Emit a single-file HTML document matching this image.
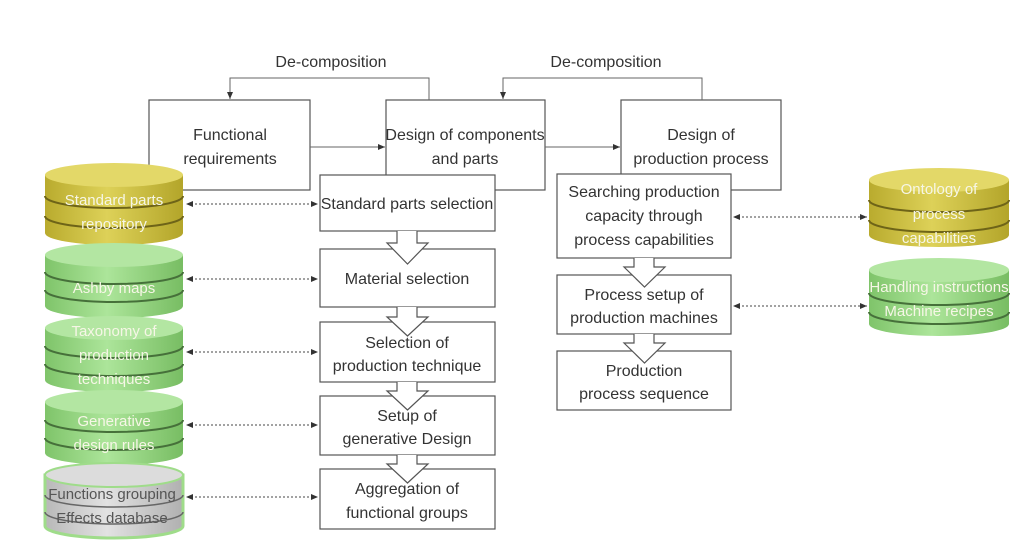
<!DOCTYPE html>
<html><head><meta charset="utf-8"><style>
html,body{margin:0;padding:0;background:#fff;}
svg{display:block;font-family:"Liberation Sans",sans-serif;}
</style></head><body>
<svg width="1024" height="553" viewBox="0 0 1024 553" xmlns="http://www.w3.org/2000/svg">
<defs>
<marker id="ah" markerWidth="8" markerHeight="8" refX="7" refY="4" orient="auto" markerUnits="userSpaceOnUse"><path d="M0,1 L7,4 L0,7 Z" fill="#333"/></marker>
<marker id="ahs" markerWidth="8" markerHeight="8" refX="1" refY="4" orient="auto" markerUnits="userSpaceOnUse"><path d="M7,1 L0,4 L7,7 Z" fill="#333"/></marker>
<linearGradient id="gy" x1="0" x2="1"><stop offset="0" stop-color="#b9ab2e"/><stop offset="0.45" stop-color="#ddd158"/><stop offset="1" stop-color="#b3a52a"/></linearGradient>
<linearGradient id="gg" x1="0" x2="1"><stop offset="0" stop-color="#7fc46a"/><stop offset="0.45" stop-color="#ace59a"/><stop offset="1" stop-color="#78bd63"/></linearGradient>
<linearGradient id="gr" x1="0" x2="1"><stop offset="0" stop-color="#b8b8b8"/><stop offset="0.45" stop-color="#e2e2e2"/><stop offset="1" stop-color="#b0b0b0"/></linearGradient>
</defs>

<g fill="none" stroke="#555" stroke-width="1.2">
<!-- top boxes -->
<rect x="149" y="100" width="161" height="90" fill="#fff"/>
<rect x="386" y="100" width="159" height="90" fill="#fff"/>
<rect x="621" y="100" width="160" height="90" fill="#fff"/>
</g>
<g fill="none" stroke="#666" stroke-width="1">
<polyline points="429,100 429,78 230,78 230,99" marker-end="url(#ah)"/>
<polyline points="702,100 702,78 503,78 503,99" marker-end="url(#ah)"/>
<line x1="310" y1="147" x2="385" y2="147" marker-end="url(#ah)"/>
<line x1="545" y1="147" x2="620" y2="147" marker-end="url(#ah)"/>
</g>
<g font-size="16" fill="#333" text-anchor="middle">
<text x="331" y="67">De-composition</text>
<text x="606" y="67">De-composition</text>
<text x="230" y="140">Functional</text>
<text x="230" y="164">requirements</text>
<text x="465" y="140">Design of components</text>
<text x="465" y="164">and parts</text>
<text x="701" y="140">Design of</text>
<text x="701" y="164">production process</text>
</g>

<!-- left column boxes -->
<g fill="#fff" stroke="#555" stroke-width="1.2">
<rect x="320" y="175" width="175" height="56"/>
<rect x="320" y="249" width="175" height="58"/>
<rect x="320" y="322" width="175" height="60"/>
<rect x="320" y="396" width="175" height="59"/>
<rect x="320" y="469" width="175" height="60"/>
<rect x="557" y="174" width="174" height="84"/>
<rect x="557" y="275" width="174" height="59"/>
<rect x="557" y="351" width="174" height="59"/>
</g>
<g fill="#fff" stroke="#555" stroke-width="1.2">
<path d="M397,231 V243 H387 L407.5,264 L428,243 H417 V231"/>
<path d="M397,307 V317 H387 L407.5,336 L428,317 H417 V307"/>
<path d="M397,382 V391 H387 L407.5,410 L428,391 H417 V382"/>
<path d="M397,455 V464 H387 L407.5,483 L428,464 H417 V455"/>
<path d="M634,258 V267 H624 L644.5,287 L665,267 H654 V258"/>
<path d="M634,334 V343 H624 L644.5,363 L665,343 H654 V334"/>
</g>
<g font-size="16" fill="#333" text-anchor="middle">
<text x="407" y="209">Standard parts selection</text>
<text x="407" y="284">Material selection</text>
<text x="407" y="348">Selection of</text>
<text x="407" y="371">production technique</text>
<text x="407" y="421">Setup  of</text>
<text x="407" y="444">generative Design</text>
<text x="407" y="494">Aggregation of</text>
<text x="407" y="518">functional groups</text>
<text x="644" y="197">Searching production</text>
<text x="644" y="221">capacity through</text>
<text x="644" y="245">process capabilities</text>
<text x="644" y="300">Process setup of</text>
<text x="644" y="323">production machines</text>
<text x="644" y="376">Production</text>
<text x="644" y="399">process sequence</text>
</g>

<!-- dotted arrows -->
<g stroke="#444" stroke-width="1" stroke-dasharray="2,2" fill="none">
<line x1="187" y1="204" x2="318" y2="204" marker-start="url(#ahs)" marker-end="url(#ah)"/>
<line x1="187" y1="279" x2="318" y2="279" marker-start="url(#ahs)" marker-end="url(#ah)"/>
<line x1="187" y1="352" x2="318" y2="352" marker-start="url(#ahs)" marker-end="url(#ah)"/>
<line x1="187" y1="425" x2="318" y2="425" marker-start="url(#ahs)" marker-end="url(#ah)"/>
<line x1="187" y1="497" x2="318" y2="497" marker-start="url(#ahs)" marker-end="url(#ah)"/>
<line x1="734" y1="217" x2="867" y2="217" marker-start="url(#ahs)" marker-end="url(#ah)"/>
<line x1="734" y1="306" x2="867" y2="306" marker-start="url(#ahs)" marker-end="url(#ah)"/>
</g>

<!-- cylinders left -->
<g>
<!-- yellow -->
<path d="M45,175 V233 A69,12 0 0 0 183,233 V175 Z" fill="url(#gy)"/>
<ellipse cx="114" cy="175" rx="69" ry="12" fill="#e3d868"/>
<path d="M45,196 A69,12 0 0 0 183,196 M45,216 A69,12 0 0 0 183,216" stroke="#6e6418" stroke-width="2" fill="none"/>
<!-- green 1 -->
<path d="M45,255 V306 A69,12 0 0 0 183,306 V255 Z" fill="url(#gg)"/>
<ellipse cx="114" cy="255" rx="69" ry="12" fill="#b3e6a2"/>
<path d="M45,272 A69,12 0 0 0 183,272 M45,290 A69,12 0 0 0 183,290" stroke="#46703a" stroke-width="2" fill="none"/>
<!-- green 2 -->
<path d="M45,328 V380 A69,12 0 0 0 183,380 V328 Z" fill="url(#gg)"/>
<ellipse cx="114" cy="328" rx="69" ry="12" fill="#b3e6a2"/>
<path d="M45,346 A69,12 0 0 0 183,346 M45,364 A69,12 0 0 0 183,364" stroke="#46703a" stroke-width="2" fill="none"/>
<!-- green 3 -->
<path d="M45,402 V453 A69,12 0 0 0 183,453 V402 Z" fill="url(#gg)"/>
<ellipse cx="114" cy="402" rx="69" ry="12" fill="#b3e6a2"/>
<path d="M45,420 A69,12 0 0 0 183,420 M45,438 A69,12 0 0 0 183,438" stroke="#46703a" stroke-width="2" fill="none"/>
<!-- grey -->
<path d="M45,475 V526 A69,12 0 0 0 183,526 V475 Z" fill="url(#gr)" stroke="#9fdc8a" stroke-width="3"/>
<ellipse cx="114" cy="475" rx="69" ry="12" fill="#dcdcdc" stroke="#9fdc8a" stroke-width="2"/>
<path d="M45,495 A69,12 0 0 0 183,495 M45,512 A69,12 0 0 0 183,512" stroke="#666" stroke-width="1.5" fill="none"/>
</g>
<!-- cylinders right -->
<g>
<path d="M869,180 V235 A70,12 0 0 0 1009,235 V180 Z" fill="url(#gy)"/>
<ellipse cx="939" cy="180" rx="70" ry="12" fill="#e3d868"/>
<path d="M869,200 A70,12 0 0 0 1009,200 M869,220 A70,12 0 0 0 1009,220" stroke="#6e6418" stroke-width="2" fill="none"/>
<path d="M869,270 V324 A70,12 0 0 0 1009,324 V270 Z" fill="url(#gg)"/>
<ellipse cx="939" cy="270" rx="70" ry="12" fill="#b3e6a2"/>
<path d="M869,293 A70,12 0 0 0 1009,293 M869,312 A70,12 0 0 0 1009,312" stroke="#46703a" stroke-width="2" fill="none"/>
</g>
<g font-size="15" fill="#f6f6e6" text-anchor="middle">
<text x="114" y="205">Standard parts</text>
<text x="114" y="229">repository</text>
<text x="114" y="293">Ashby maps</text>
<text x="114" y="336">Taxonomy of</text>
<text x="114" y="360">production</text>
<text x="114" y="384">techniques</text>
<text x="114" y="426">Generative</text>
<text x="114" y="450">design rules</text>
<text x="939" y="194">Ontology of</text>
<text x="939" y="219">process</text>
<text x="939" y="243">capabilities</text>
<text x="939" y="292">Handling instructions</text>
<text x="939" y="316">Machine recipes</text>
</g>
<g font-size="15" fill="#555" text-anchor="middle">
<text x="112" y="499">Functions grouping</text>
<text x="112" y="523">Effects database</text>
</g>
</svg>
</body></html>
